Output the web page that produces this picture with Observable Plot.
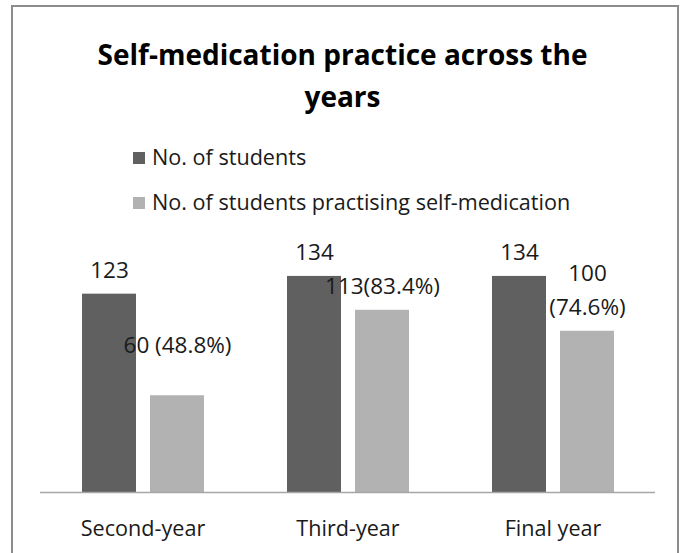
<!DOCTYPE html>
<html><head><meta charset="utf-8">
<script src="https://cdn.jsdelivr.net/npm/d3@7"></script>
<script src="https://cdn.jsdelivr.net/npm/@observablehq/plot@0.6"></script>
<style>
body{margin:0;background:#fff;}
#wrap{position:relative;width:685px;height:553px;overflow:hidden;font-family:"Open Sans",Lato,sans-serif;color:#000;}
#frame{position:absolute;left:11px;top:5px;width:668px;height:600px;border:2px solid #8c8c8c;box-sizing:border-box;}
#title{position:absolute;left:0;top:33px;width:685px;text-align:center;font-weight:bold;font-size:28px;line-height:42px;}
.leg{position:absolute;left:133px;font-size:21.6px;line-height:24px;white-space:nowrap;color:#1a1a1a;}
.sw{display:inline-block;width:12px;height:12px;margin-right:7px;vertical-align:1px;}
#chart{position:absolute;left:0;top:230px;}
</style></head>
<body><div id="wrap">
<div id="frame"></div>
<div id="title">Self-medication practice across the<br>years</div>
<div id="legend"></div>
<div id="chart"></div>
</div>
<script>
// ---- data ----
const years = ["Second-year", "Third-year", "Final year"];
const series = ["No. of students", "No. of students practising self-medication"];
const totalStudents = [123, 134, 134];
const practising = [60, 113, 100];
const totalLabels = ["123", "134", "134"];
const practisingLabels = ["60 (48.8%)", "113(83.4%)", "100\n(74.6%)"];

// ---- styling ----
const colors = ["#606060", "#b2b2b2"];
const legendTops = [145, 190];
const labelLiftTotal = [27, 27, 27];
const labelLiftPract = [54, 27, 44];

const rows = [];
years.forEach((y, i) => {
  rows.push({year: y, series: series[0], value: totalStudents[i], label: totalLabels[i], lift: labelLiftTotal[i]});
  rows.push({year: y, series: series[1], value: practising[i], label: practisingLabels[i], lift: labelLiftPract[i]});
});

const legend = document.getElementById("legend");
series.forEach((s, i) => {
  const d = document.createElement("div");
  d.className = "leg";
  d.style.top = legendTops[i] + "px";
  d.innerHTML = `<span class="sw" style="background:${colors[i]}"></span>`;
  d.appendChild(document.createTextNode(s));
  legend.appendChild(d);
});

const font = '"Open Sans", Lato, sans-serif';
const labelMarks = rows.map(r => Plot.text([r], {
  fx: "year", x: "series", y: "value", text: "label",
  dy: -r.lift, lineAnchor: "middle", lineHeight: 1.5,
  fontSize: 22.5, fill: "#1a1a1a"
}));

const chart = Plot.plot({
  width: 685,
  height: 323,
  marginLeft: 40,
  marginRight: 30,
  marginTop: 4,
  marginBottom: 61,
  style: {fontFamily: font, fontSize: "21.6px", background: "transparent", color: "#1a1a1a"},
  fx: {domain: years, paddingInner: 0, paddingOuter: 0, label: null},
  x: {domain: series, paddingInner: 0.206, paddingOuter: 0.61, axis: null},
  y: {domain: [0, 160], axis: null},
  color: {domain: series, range: colors},
  marks: [
    Plot.barY(rows, {fx: "year", x: "series", y: "value", fill: "series"}),
    Plot.ruleY([0], {stroke: "#a6a6a6", strokeWidth: 1.5}),
    ...labelMarks,
    Plot.axisFx({anchor: "bottom", tickSize: 0, tickPadding: 28, fontSize: 21.6, label: null})
  ]
});
document.getElementById("chart").appendChild(chart);
</script>
</body></html>
